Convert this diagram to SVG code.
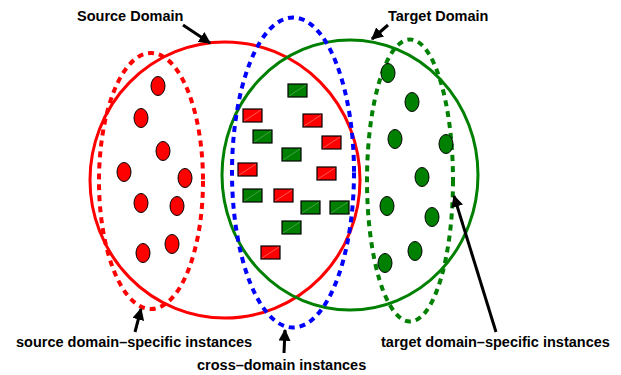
<svg xmlns="http://www.w3.org/2000/svg" width="621" height="375" viewBox="0 0 621 375">
<defs>
<marker id="ah" viewBox="0 0 10 10" refX="9" refY="5" markerWidth="4" markerHeight="4" orient="auto" markerUnits="strokeWidth">
<path d="M0,0 L10,5 L0,10 z" fill="#000"/>
</marker>
<g id="rr"><rect x="0" y="0" width="19" height="13" stroke="#000" stroke-width="1.2" fill="#ff0000"/><line x1="1" y1="12" x2="18" y2="1" stroke="#ff9090" stroke-width="0.6"/></g>
<g id="gr"><rect x="0" y="0" width="19" height="13" stroke="#000" stroke-width="1.2" fill="#008000"/><line x1="1" y1="12" x2="18" y2="1" stroke="#70b070" stroke-width="0.6"/></g>
</defs>
<style>
.lbl{font-family:"Liberation Sans",Arial,sans-serif;font-weight:bold;font-size:14.5px;fill:#000}
.dash{fill:none;stroke-width:4;stroke-dasharray:6 5}
.solid{fill:none;stroke-width:3}
.rd{fill:#ff0000;stroke:#000;stroke-width:1}
.gd{fill:#008000;stroke:#000;stroke-width:1}
.ar{stroke:#000;stroke-width:3;fill:none}
</style>
<rect width="621" height="375" fill="#fff"/>
<g id="source-domain"><ellipse class="solid" cx="225" cy="180" rx="135" ry="138" stroke="#ff0000"/></g>
<g id="target-domain"><ellipse class="solid" cx="350" cy="175" rx="128" ry="135" stroke="#008000"/></g>
<g id="source-specific"><ellipse class="dash" cx="151" cy="181" rx="52" ry="128" stroke="#ff0000"/>
<ellipse class="rd" cx="158" cy="86" rx="7" ry="9.5"/>
<ellipse class="rd" cx="141" cy="118" rx="7" ry="9.5"/>
<ellipse class="rd" cx="163" cy="151" rx="7" ry="9.5"/>
<ellipse class="rd" cx="124" cy="172" rx="7" ry="9.5"/>
<ellipse class="rd" cx="185" cy="178" rx="7" ry="9.5"/>
<ellipse class="rd" cx="141" cy="203" rx="7" ry="9.5"/>
<ellipse class="rd" cx="177" cy="206" rx="7" ry="9.5"/>
<ellipse class="rd" cx="143" cy="253" rx="7" ry="9.5"/>
<ellipse class="rd" cx="172" cy="244" rx="7" ry="9.5"/>
</g>
<g id="cross-domain"><ellipse class="dash" cx="293" cy="172.5" rx="61" ry="155" stroke="#0000ff"/>
<use href="#gr" x="288" y="84"/>
<use href="#rr" x="243" y="109"/>
<use href="#rr" x="303" y="114"/>
<use href="#gr" x="253" y="130"/>
<use href="#rr" x="322" y="136"/>
<use href="#gr" x="282" y="148"/>
<use href="#rr" x="238" y="163"/>
<use href="#rr" x="317" y="167"/>
<use href="#gr" x="243" y="189"/>
<use href="#rr" x="274" y="189"/>
<use href="#gr" x="301" y="201"/>
<use href="#gr" x="330" y="201"/>
<use href="#gr" x="282" y="221"/>
<use href="#rr" x="261" y="246"/>
</g>
<g id="target-specific"><ellipse class="dash" cx="410" cy="180.5" rx="43" ry="141" stroke="#008000"/>
<ellipse class="gd" cx="388" cy="73" rx="7" ry="9.5"/>
<ellipse class="gd" cx="412" cy="102" rx="7" ry="9.5"/>
<ellipse class="gd" cx="395" cy="139" rx="7" ry="9.5"/>
<ellipse class="gd" cx="446" cy="144" rx="7" ry="9.5"/>
<ellipse class="gd" cx="422" cy="177" rx="7" ry="9.5"/>
<ellipse class="gd" cx="387" cy="206" rx="7" ry="9.5"/>
<ellipse class="gd" cx="432" cy="217" rx="7" ry="9.5"/>
<ellipse class="gd" cx="415" cy="251" rx="7" ry="9.5"/>
<ellipse class="gd" cx="385" cy="263" rx="7" ry="9.5"/>
</g>
<g id="connectors">
<line class="ar" x1="183" y1="25" x2="210" y2="43" marker-end="url(#ah)"/>
<line class="ar" x1="388" y1="25" x2="372" y2="39" marker-end="url(#ah)"/>
<line class="ar" x1="135" y1="332" x2="141" y2="309" marker-end="url(#ah)"/>
<line class="ar" x1="284" y1="353" x2="285" y2="330" marker-end="url(#ah)"/>
<line class="ar" x1="496" y1="332" x2="454" y2="196" marker-end="url(#ah)"/>
</g>
<g id="labels">
<text class="lbl" x="77" y="21">Source Domain</text>
<text class="lbl" x="388" y="21">Target Domain</text>
<text class="lbl" x="16" y="347">source domain–specific instances</text>
<text class="lbl" x="197" y="370">cross–domain instances</text>
<text class="lbl" x="381" y="347">target domain–specific instances</text>
</g>
</svg>
